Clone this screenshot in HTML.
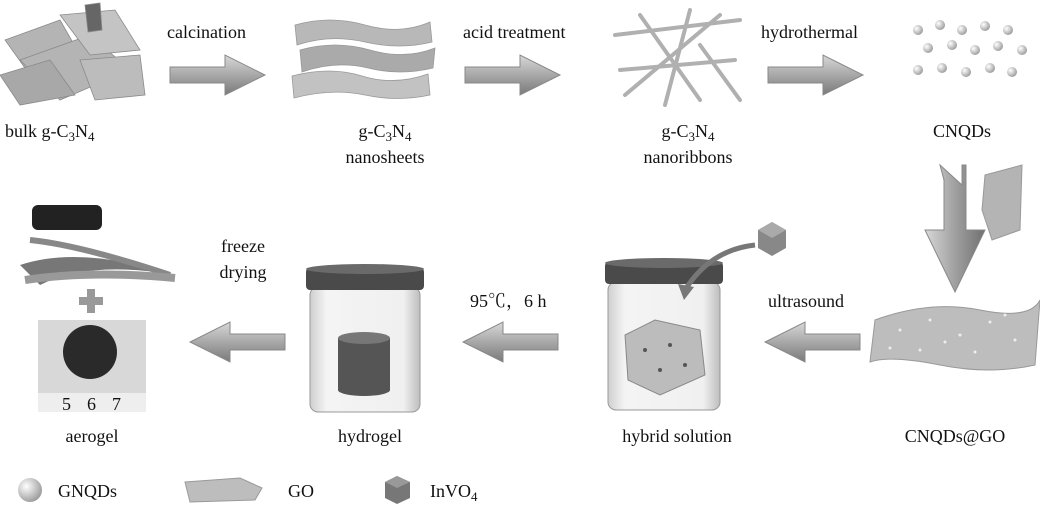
<!DOCTYPE html>
<html><head><meta charset="utf-8"><style>
html,body{margin:0;padding:0;background:#fff;}
svg{display:block;font-family:"Liberation Serif","Noto Serif CJK SC",serif;}
text{font-size:18px;fill:#111;}
</style></head><body>
<svg width="1040" height="507" viewBox="0 0 1040 507" xmlns="http://www.w3.org/2000/svg">
<defs>
<linearGradient id="ag" x1="0" y1="0" x2="0" y2="1"><stop offset="0" stop-color="#d8d8d8"/><stop offset="0.5" stop-color="#a8a8a8"/><stop offset="1" stop-color="#7a7a7a"/></linearGradient>
<linearGradient id="agv" x1="0" y1="0" x2="1" y2="0"><stop offset="0" stop-color="#d8d8d8"/><stop offset="0.5" stop-color="#a0a0a0"/><stop offset="1" stop-color="#707070"/></linearGradient>
<radialGradient id="sph" cx="0.35" cy="0.35" r="0.7"><stop offset="0" stop-color="#fff"/><stop offset="1" stop-color="#9a9a9a"/></radialGradient>
<linearGradient id="jar" x1="0" y1="0" x2="1" y2="0"><stop offset="0" stop-color="#cfcfcf"/><stop offset="0.15" stop-color="#f4f4f4"/><stop offset="0.85" stop-color="#f0f0f0"/><stop offset="1" stop-color="#bdbdbd"/></linearGradient>
<g id="rarr"><path d="M0,12 L55,12 L55,0 L95,20 L55,40 L55,28 L0,28 Z" fill="url(#ag)" stroke="#888" stroke-width="1"/></g>
<g id="larr"><path d="M95,12 L40,12 L40,0 L0,20 L40,40 L40,28 L95,28 Z" fill="url(#ag)" stroke="#888" stroke-width="1"/></g>
</defs>

<g fill="#b4b4b4" stroke="#8a8a8a" stroke-width="0.8">
<polygon points="5,40 60,20 80,55 30,75"/>
<polygon points="20,60 90,35 130,70 60,100"/>
<polygon points="60,15 115,10 140,50 90,55" fill="#c4c4c4"/>
<polygon points="0,75 50,60 75,95 20,105" fill="#a8a8a8"/>
<polygon points="80,60 140,55 145,95 95,100" fill="#bcbcbc"/>
<polygon points="85,5 100,3 102,30 88,32" fill="#666"/>
</g>
<use href="#rarr" x="170" y="55"/>
<text x="167" y="38">calcination</text>

<g fill="#b8b8b8" stroke="#999" stroke-width="0.8">
<path d="M295,25 Q330,15 365,25 T430,22 L432,42 Q400,50 365,42 T297,45 Z"/>
<path d="M300,50 Q335,40 370,50 T435,48 L433,68 Q400,76 368,68 T302,72 Z" fill="#aaa"/>
<path d="M292,76 Q330,66 362,76 T428,74 L430,95 Q398,102 365,95 T294,98 Z" fill="#c2c2c2"/>
</g>
<use href="#rarr" x="465" y="55"/>
<text x="463" y="38">acid treatment</text>

<g stroke="#b0b0b0" stroke-width="4" stroke-linecap="round" fill="none">
<line x1="615" y1="35" x2="740" y2="20"/>
<line x1="620" y1="70" x2="735" y2="60"/>
<line x1="640" y1="15" x2="700" y2="100"/>
<line x1="690" y1="10" x2="665" y2="105"/>
<line x1="625" y1="95" x2="720" y2="15"/>
<line x1="700" y1="45" x2="740" y2="100"/>
</g>
<use href="#rarr" x="768" y="55"/>
<text x="761" y="38">hydrothermal</text>

<g fill="url(#sph)">
<circle cx="918" cy="30" r="5"/><circle cx="940" cy="25" r="5"/><circle cx="962" cy="30" r="5"/><circle cx="985" cy="26" r="5"/><circle cx="1008" cy="30" r="5"/>
<circle cx="928" cy="48" r="5"/><circle cx="952" cy="45" r="5"/><circle cx="975" cy="50" r="5"/><circle cx="998" cy="46" r="5"/><circle cx="1022" cy="50" r="5"/>
<circle cx="918" cy="70" r="5"/><circle cx="942" cy="68" r="5"/><circle cx="966" cy="72" r="5"/><circle cx="990" cy="68" r="5"/><circle cx="1012" cy="72" r="5"/>
</g>

<text x="5" y="137">bulk g-C<tspan font-size="13" dy="4">3</tspan><tspan dy="-4">N</tspan><tspan font-size="13" dy="4">4</tspan></text>
<text x="385" y="137" text-anchor="middle">g-C<tspan font-size="13" dy="4">3</tspan><tspan dy="-4">N</tspan><tspan font-size="13" dy="4">4</tspan></text>
<text x="385" y="163" text-anchor="middle">nanosheets</text>
<text x="688" y="137" text-anchor="middle">g-C<tspan font-size="13" dy="4">3</tspan><tspan dy="-4">N</tspan><tspan font-size="13" dy="4">4</tspan></text>
<text x="688" y="163" text-anchor="middle">nanoribbons</text>
<text x="962" y="137" text-anchor="middle">CNQDs</text>

<path d="M940,165 L962,185 L962,165 L966,165 L966,230 L985,230 L955,292 L925,230 L944,230 L944,180 Z" fill="url(#agv)" stroke="#888"/>
<polygon points="985,175 1022,165 1020,230 992,240 982,210" fill="#b4b4b4" stroke="#999"/>

<path d="M875,320 Q930,300 980,310 T1040,300 L1035,365 Q990,375 940,365 T870,362 Z" fill="#bdbdbd" stroke="#999"/>
<g fill="#eee"><circle cx="900" cy="330" r="1.5"/><circle cx="930" cy="320" r="1.5"/><circle cx="960" cy="335" r="1.5"/><circle cx="990" cy="322" r="1.5"/><circle cx="1015" cy="340" r="1.5"/><circle cx="920" cy="350" r="1.5"/><circle cx="975" cy="352" r="1.5"/><circle cx="1005" cy="315" r="1.5"/><circle cx="945" cy="342" r="1.5"/><circle cx="890" cy="348" r="1.5"/></g>
<text x="955" y="442" text-anchor="middle">CNQDs@GO</text>

<use href="#larr" x="765" y="322"/>
<text x="768" y="307">ultrasound</text>

<rect x="608" y="282" width="112" height="128" rx="8" fill="url(#jar)" stroke="#999"/>
<rect x="605" y="262" width="118" height="22" rx="4" fill="#4a4a4a"/>
<ellipse cx="664" cy="263" rx="59" ry="5" fill="#6a6a6a"/>
<polygon points="625,335 655,320 700,330 705,375 660,395 628,380" fill="#bcbcbc" stroke="#888"/>
<g fill="#555"><circle cx="645" cy="350" r="2"/><circle cx="670" cy="345" r="2"/><circle cx="660" cy="370" r="2"/><circle cx="685" cy="365" r="2"/></g>
<path d="M755,245 Q710,250 685,290" fill="none" stroke="#777" stroke-width="5"/>
<polygon points="678,284 684,300 694,287" fill="#777"/>
<polygon points="758,230 772,222 786,230 786,248 772,256 758,248" fill="#888"/>
<polygon points="758,230 772,222 786,230 772,238" fill="#aaa"/>
<text x="677" y="442" text-anchor="middle">hybrid solution</text>

<use href="#larr" x="463" y="322"/>
<text x="470" y="307">95℃，6 h</text>

<rect x="310" y="287" width="110" height="125" rx="8" fill="url(#jar)" stroke="#999"/>
<rect x="306" y="268" width="118" height="22" rx="4" fill="#4a4a4a"/>
<ellipse cx="365" cy="269" rx="59" ry="5" fill="#6a6a6a"/>
<rect x="338" y="338" width="52" height="52" fill="#555"/>
<ellipse cx="364" cy="338" rx="26" ry="6" fill="#777"/>
<ellipse cx="364" cy="390" rx="26" ry="6" fill="#555"/>
<text x="370" y="442" text-anchor="middle">hydrogel</text>

<use href="#larr" x="190" y="322"/>
<text x="243" y="252" text-anchor="middle">freeze</text>
<text x="243" y="278" text-anchor="middle">drying</text>

<path d="M20,265 Q80,245 175,275 Q90,260 40,285 Z" fill="#777"/>
<path d="M30,240 Q80,245 170,275" stroke="#888" stroke-width="6" fill="none"/>
<path d="M25,280 Q90,270 175,278" stroke="#999" stroke-width="8" fill="none"/>
<rect x="32" y="205" width="70" height="25" rx="6" fill="#222"/>
<rect x="87" y="289" width="8" height="24" fill="#999"/>
<rect x="79" y="297" width="24" height="8" fill="#999"/>
<rect x="38" y="320" width="108" height="92" fill="#d8d8d8"/>
<circle cx="90" cy="352" r="27" fill="#2a2a2a"/>
<rect x="38" y="393" width="108" height="19" fill="#eee"/>
<text x="62" y="410" font-size="9">5</text><text x="87" y="410" font-size="9">6</text><text x="112" y="410" font-size="9">7</text>
<text x="92" y="442" text-anchor="middle">aerogel</text>

<circle cx="30" cy="490" r="12" fill="url(#sph)"/>
<text x="58" y="497">GNQDs</text>
<polygon points="185,482 240,478 262,488 255,500 190,502" fill="#bdbdbd" stroke="#999"/>
<text x="288" y="497">GO</text>
<polygon points="385,482 397,476 410,482 410,498 397,504 385,498" fill="#777"/>
<polygon points="385,482 397,476 410,482 397,488" fill="#999"/>
<text x="430" y="497">InVO<tspan font-size="13" dy="4">4</tspan></text>
</svg>
</body></html>
